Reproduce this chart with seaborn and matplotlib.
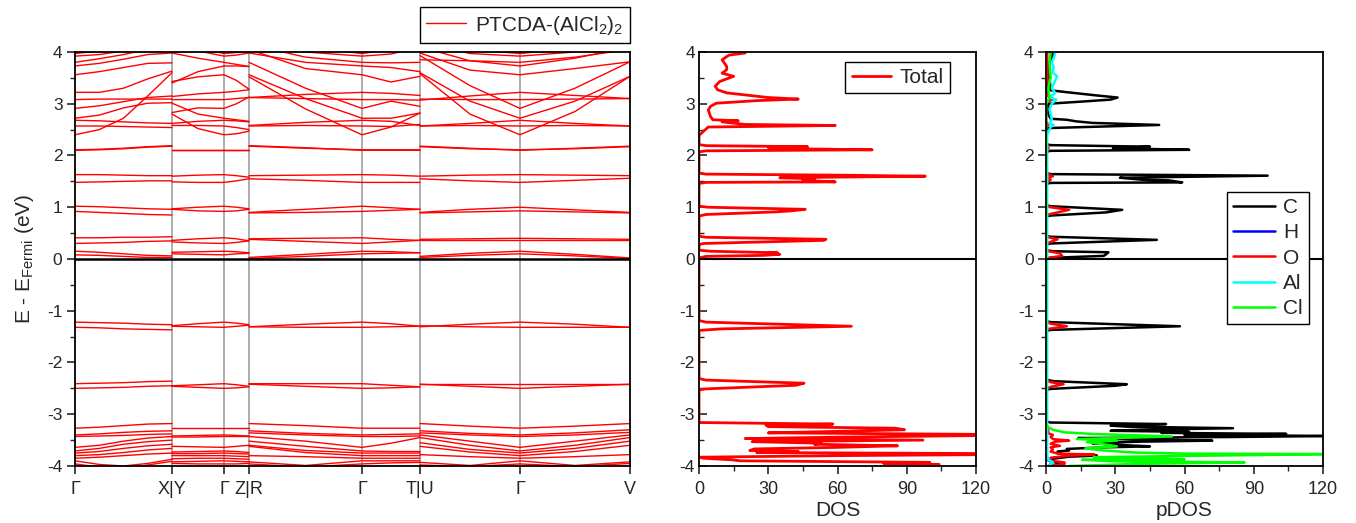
import numpy as np
import pandas as pd
import matplotlib
matplotlib.use('Agg')
import matplotlib.pyplot as plt
from matplotlib.lines import Line2D
from matplotlib.ticker import MultipleLocator
import seaborn as sns

# ---------------- k-path (positions along the path) ----------------
k_labels = ['Γ', 'X|Y', 'Γ', 'Z|R', 'Γ', 'T|U', 'Γ', 'V']
k_ticks = [0, 97, 149, 174, 287, 345, 445, 555]

# sample points of the 4 continuous pieces
k_gx = [0, 24.25, 48.5, 72.75, 97]          # Γ - X
k_ygz = [97, 123, 149, 161.5, 174]          # Y - Γ - Z
k_rgt = [174, 230.5, 287, 316, 345]         # R - Γ - T
k_ugv = [345, 395, 445, 500, 555]           # U - Γ - V

# band energies (eV) read at the sample points, same band order in every piece
bands_gx = [
    [-3.27, -3.25, -3.22, -3.19, -3.18], [-3.40, -3.38, -3.35, -3.33, -3.32],
    [-3.43, -3.42, -3.41, -3.39, -3.38], [-3.64, -3.60, -3.52, -3.46, -3.43],
    [-3.71, -3.66, -3.58, -3.53, -3.50], [-3.75, -3.72, -3.66, -3.61, -3.58],
    [-3.80, -3.78, -3.74, -3.69, -3.66], [-3.85, -3.83, -3.80, -3.77, -3.75],
    [-3.90, -3.97, -4.00, -3.95, -3.87], [-3.96, -4.02, -4.05, -3.98, -3.91],
    [-2.41, -2.40, -2.39, -2.37, -2.36], [-2.50, -2.49, -2.48, -2.46, -2.45],
    [-1.22, -1.23, -1.24, -1.26, -1.27], [-1.32, -1.33, -1.35, -1.36, -1.37],
    [0.15, 0.13, 0.10, 0.07, 0.06], [0.08, 0.07, 0.05, 0.03, 0.03],
    [0.41, 0.41, 0.42, 0.42, 0.43], [0.30, 0.31, 0.32, 0.34, 0.35],
    [1.02, 1.01, 0.99, 0.97, 0.96], [0.92, 0.90, 0.88, 0.86, 0.85],
    [1.63, 1.63, 1.62, 1.61, 1.61], [1.48, 1.49, 1.50, 1.51, 1.51],
    [2.11, 2.12, 2.14, 2.17, 2.19], [2.10, 2.11, 2.13, 2.16, 2.18],
    [2.40, 2.50, 2.72, 3.15, 3.60], [2.57, 2.57, 2.56, 2.55, 2.54],
    [2.68, 2.67, 2.65, 2.63, 2.62], [2.72, 2.78, 2.92, 3.01, 3.02],
    [2.91, 2.96, 3.04, 3.12, 3.15], [3.08, 3.09, 3.09, 3.09, 3.09],
    [3.22, 3.22, 3.30, 3.48, 3.63], [3.56, 3.62, 3.70, 3.78, 3.79],
    [3.73, 3.78, 3.86, 3.95, 3.98], [3.80, 3.87, 3.95, 4.05, 4.10],
    [3.92, 3.95, 4.02, 4.12, 4.20], [3.97, 4.02, 4.10, 4.20, 4.30],
]
bands_ygz = [
    [-3.27, -3.27, -3.27, -3.27, -3.27], [-3.42, -3.41, -3.40, -3.41, -3.42],
    [-3.44, -3.44, -3.43, -3.43, -3.43], [-3.62, -3.63, -3.64, -3.62, -3.60],
    [-3.73, -3.72, -3.71, -3.72, -3.74], [-3.76, -3.76, -3.75, -3.76, -3.77],
    [-3.80, -3.80, -3.80, -3.81, -3.82], [-3.86, -3.85, -3.85, -3.86, -3.87],
    [-3.92, -3.91, -3.90, -3.91, -3.92], [-3.95, -3.96, -3.96, -3.96, -3.95],
    [-2.45, -2.43, -2.41, -2.43, -2.46], [-2.46, -2.48, -2.50, -2.49, -2.47],
    [-1.29, -1.25, -1.22, -1.24, -1.27], [-1.30, -1.31, -1.32, -1.30, -1.28],
    [0.13, 0.14, 0.15, 0.14, 0.12], [0.10, 0.09, 0.08, 0.10, 0.11],
    [0.36, 0.39, 0.41, 0.39, 0.35], [0.33, 0.31, 0.30, 0.32, 0.35],
    [0.97, 1.00, 1.02, 1.00, 0.97], [0.96, 0.93, 0.92, 0.93, 0.96],
    [1.60, 1.62, 1.63, 1.61, 1.58], [1.49, 1.48, 1.48, 1.51, 1.55],
    [2.10, 2.10, 2.10, 2.10, 2.10], [2.11, 2.11, 2.11, 2.11, 2.11],
    [2.80, 2.52, 2.40, 2.42, 2.47], [2.58, 2.58, 2.57, 2.54, 2.50],
    [2.62, 2.66, 2.68, 2.67, 2.65], [3.01, 2.80, 2.72, 2.69, 2.66],
    [2.83, 2.92, 2.91, 3.00, 3.13], [3.08, 3.08, 3.08, 3.10, 3.12],
    [3.14, 3.19, 3.22, 3.24, 3.27], [3.43, 3.52, 3.56, 3.45, 3.28],
    [3.40, 3.62, 3.73, 3.73, 3.72], [3.98, 3.88, 3.80, 3.76, 3.72],
    [4.20, 4.02, 3.92, 3.94, 3.98], [4.30, 4.08, 3.97, 3.99, 4.00],
]
bands_rgt = [
    [-3.18, -3.22, -3.27, -3.27, -3.27], [-3.32, -3.37, -3.40, -3.39, -3.38],
    [-3.36, -3.40, -3.43, -3.43, -3.42], [-3.43, -3.52, -3.64, -3.56, -3.45],
    [-3.52, -3.62, -3.71, -3.72, -3.72], [-3.60, -3.70, -3.75, -3.75, -3.75],
    [-3.62, -3.74, -3.80, -3.80, -3.80], [-3.80, -3.82, -3.85, -3.85, -3.85],
    [-3.92, -3.99, -3.90, -3.90, -3.90], [-3.96, -4.02, -3.96, -3.94, -3.93],
    [-2.41, -2.41, -2.41, -2.44, -2.47], [-2.42, -2.46, -2.50, -2.49, -2.47],
    [-1.31, -1.26, -1.22, -1.25, -1.30], [-1.31, -1.32, -1.32, -1.31, -1.30],
    [0.03, 0.09, 0.15, 0.14, 0.12], [0.01, 0.05, 0.10, 0.11, 0.12],
    [0.39, 0.40, 0.41, 0.38, 0.36], [0.38, 0.34, 0.30, 0.33, 0.36],
    [0.90, 0.96, 1.02, 0.99, 0.96], [0.89, 0.90, 0.92, 0.94, 0.96],
    [1.61, 1.62, 1.63, 1.62, 1.60], [1.55, 1.52, 1.48, 1.48, 1.48],
    [2.19, 2.15, 2.10, 2.10, 2.10], [2.18, 2.14, 2.11, 2.11, 2.11],
    [3.52, 2.90, 2.40, 2.55, 2.82], [2.57, 2.58, 2.57, 2.56, 2.60],
    [2.58, 2.64, 2.68, 2.66, 2.58], [3.56, 3.10, 2.72, 2.72, 2.82],
    [3.80, 3.30, 2.91, 3.05, 2.95], [3.12, 3.10, 3.08, 3.08, 3.07],
    [3.12, 3.18, 3.22, 3.20, 3.16], [4.05, 3.68, 3.56, 3.42, 3.53],
    [3.98, 3.80, 3.73, 3.70, 3.62], [4.15, 3.90, 3.80, 3.79, 3.80],
    [4.20, 4.00, 3.92, 3.96, 4.10], [4.30, 4.10, 3.97, 4.05, 4.20],
]
bands_ugv = [
    [-3.18, -3.23, -3.27, -3.23, -3.18], [-3.32, -3.37, -3.40, -3.36, -3.30],
    [-3.36, -3.40, -3.43, -3.40, -3.35], [-3.40, -3.52, -3.64, -3.52, -3.40],
    [-3.45, -3.60, -3.71, -3.60, -3.45], [-3.55, -3.68, -3.75, -3.66, -3.52],
    [-3.62, -3.73, -3.80, -3.72, -3.60], [-3.78, -3.82, -3.85, -3.82, -3.78],
    [-3.93, -3.99, -3.90, -3.99, -3.92], [-3.98, -4.01, -3.96, -4.01, -3.95],
    [-2.41, -2.41, -2.41, -2.41, -2.41], [-2.42, -2.46, -2.50, -2.46, -2.42],
    [-1.31, -1.26, -1.22, -1.26, -1.32], [-1.29, -1.31, -1.32, -1.32, -1.32],
    [0.05, 0.11, 0.15, 0.09, 0.02], [0.03, 0.07, 0.10, 0.06, 0.01],
    [0.38, 0.39, 0.40, 0.39, 0.38], [0.37, 0.37, 0.37, 0.37, 0.37],
    [0.90, 0.96, 1.00, 0.95, 0.90], [0.89, 0.91, 0.93, 0.91, 0.89],
    [1.60, 1.62, 1.63, 1.62, 1.61], [1.55, 1.51, 1.48, 1.52, 1.56],
    [2.18, 2.14, 2.10, 2.14, 2.18], [2.17, 2.13, 2.11, 2.13, 2.17],
    [3.58, 2.80, 2.40, 2.85, 3.53], [2.57, 2.58, 2.57, 2.58, 2.57],
    [2.57, 2.62, 2.68, 2.62, 2.57], [3.60, 3.05, 2.72, 3.05, 3.53],
    [3.93, 3.35, 2.91, 3.30, 3.81], [3.09, 3.08, 3.08, 3.09, 3.10],
    [3.07, 3.15, 3.22, 3.16, 3.10], [3.98, 3.65, 3.56, 3.68, 3.81],
    [4.10, 3.83, 3.73, 3.88, 4.10], [3.85, 3.83, 3.80, 3.90, 4.05],
    [4.20, 3.97, 3.92, 4.00, 4.20], [4.30, 4.05, 3.97, 4.08, 4.30],
]

# ---------------- total DOS ----------------
dos_E = [-4.00, -3.97, -3.95, -3.93, -3.90, -3.88, -3.85, -3.83, -3.80, -3.78,
         -3.76, -3.74, -3.72, -3.70, -3.67, -3.64, -3.61, -3.58, -3.56, -3.53,
         -3.50, -3.47, -3.44, -3.41, -3.39, -3.36, -3.33, -3.30, -3.27, -3.24,
         -3.21, -3.19, -3.16, -3.14, -2.53, -2.51, -2.44, -2.40, -2.34, -2.31,
         -1.38, -1.35, -1.30, -1.22, -1.19, 0.02, 0.05, 0.07, 0.09, 0.11,
         0.12, 0.15, 0.17, 0.28, 0.30, 0.36, 0.38, 0.42, 0.44, 0.83,
         0.86, 0.91, 0.93, 0.96, 1.00, 1.02, 1.46, 1.48, 1.49, 1.52,
         1.55, 1.57, 1.60, 1.62, 1.64, 1.66, 2.07, 2.09, 2.11, 2.13,
         2.15, 2.17, 2.19, 2.21, 2.39, 2.47, 2.55, 2.58, 2.60, 2.65,
         2.67, 2.69, 2.75, 2.88, 2.95, 3.01, 3.06, 3.09, 3.12, 3.16,
         3.21, 3.27, 3.34, 3.43, 3.48, 3.53, 3.59, 3.66, 3.72, 3.85,
         3.94, 3.98]
dos_total = [90, 104, 80, 100, 18, 14, 2, 0, 60, 125,
             125, 25, 43, 22, 24, 60, 86, 50, 53, 23,
             97, 20, 65, 125, 125, 30, 61, 89, 85, 30,
             29, 58, 0, 0, 0, 3, 42, 45.5, 3, 0,
             0, 10, 66, 3, 0, 0, 3, 28, 35, 30,
             34, 5, 0, 0, 2, 54, 55, 3, 0, 0,
             3, 33, 40, 46, 4, 0, 0, 3, 59, 45,
             50, 35, 98, 60, 3, 0, 0, 3, 75, 40,
             30, 47, 3, 0, 0, 2, 4, 59, 20, 10,
             17, 6, 5, 4, 5, 7.5, 25, 43, 30, 22,
             12, 8, 7, 9, 12, 15, 10, 12, 12, 10,
             13, 20]

# ---------------- projected DOS ----------------
c_E = [-4.00, -3.96, -3.93, -3.90, -3.86, -3.82, -3.80, -3.78, -3.75, -3.72,
       -3.70, -3.67, -3.64, -3.62, -3.59, -3.56, -3.53, -3.51, -3.48, -3.46,
       -3.44, -3.42, -3.40, -3.38, -3.36, -3.34, -3.32, -3.30, -3.27, -3.24,
       -3.22, -3.19, -3.16, -3.14, -2.53, -2.51, -2.45, -2.42, -2.36, -2.33,
       -1.39, -1.37, -1.30, -1.22, -1.20, 0.00, 0.02, 0.06, 0.09, 0.13,
       0.15, 0.17, 0.28, 0.30, 0.37, 0.43, 0.45, 0.82, 0.84, 0.90,
       0.95, 1.02, 1.04, 1.45, 1.47, 1.48, 1.52, 1.53, 1.57, 1.61,
       1.64, 1.66, 2.07, 2.09, 2.11, 2.14, 2.17, 2.20, 2.22, 2.50,
       2.53, 2.59, 2.63, 2.66, 2.69, 2.71, 2.80, 3.00, 3.04, 3.08,
       3.12, 3.16, 3.23, 3.26, 3.50, 3.80, 3.95, 4.00]
c_val = [3, 6, 4, 2, 3, 10, 22, 8, 5, 5,
         10, 9, 25, 45, 30, 20, 40, 72, 30, 14,
         80, 125, 60, 104, 50, 62, 28, 40, 81, 35,
         28, 52, 2, 0, 0, 2, 30, 35, 3, 0,
         0, 2, 58, 2, 0, 0, 1, 25, 26, 27,
         3, 0, 0, 2, 48, 2, 0, 0, 2, 26,
         33, 2, 0, 0, 2, 59, 53, 42, 32, 96,
         2, 0, 0, 2, 62, 29, 45, 2, 0, 0,
         1, 49, 20, 13, 9, 2, 1, 1, 15, 28,
         31, 22, 7.6, 2, 1.5, 1.5, 3, 2]

h_E = [-4.00, -3.93, -3.88, -3.80, 4.00]
h_val = [1, 3, 0.5, 0, 0]

o_E = [-4.00, -3.96, -3.93, -3.90, -3.84, -3.80, -3.78, -3.76, -3.72, -3.68,
       -3.64, -3.61, -3.57, -3.53, -3.51, -3.48, -3.44, -3.40, -3.37, -3.30,
       -3.25, -2.50, -2.46, -2.42, -2.38, -2.34, -1.36, -1.33, -1.30, -1.25,
       -1.21, 0.00, 0.03, 0.06, 0.11, 0.15, 0.17, 0.30, 0.33, 0.38,
       0.42, 0.44, 0.85, 0.88, 0.95, 1.00, 1.02, 1.47, 1.50, 1.53,
       1.57, 1.60, 1.63, 1.65, 2.08, 2.11, 2.18, 2.20, 2.55, 2.59,
       2.65, 3.02, 3.09, 3.15, 3.40, 4.00]
o_val = [2, 8, 8, 2, 2, 10, 21, 5, 2, 3,
         2, 6, 2, 4, 10, 3, 2, 3, 1, 1,
         0, 0, 3, 7.6, 2, 0, 0, 4, 9, 2,
         0, 0, 2, 7, 6, 1, 0, 0, 2, 5,
         1, 0, 0, 3, 10, 2, 0, 0, 1, 2,
         1, 3, 1, 0, 0, 1, 1, 0, 0, 1,
         0, 0, 3, 1, 0.5, 0.5]

al_E = [-4.00, -3.93, -3.88, -3.80, 2.40, 2.55, 2.59, 2.62, 2.70, 2.80,
        2.90, 3.00, 3.08, 3.12, 3.21, 3.30, 3.40, 3.53, 3.60, 3.72,
        3.80, 3.90, 3.98]
al_val = [1, 3, 1, 0.5, 0.5, 2, 3.3, 1.5, 2.5, 2,
          1.5, 2.5, 4.5, 1.5, 4, 2.5, 3.5, 4.8, 3, 3.3,
          2.5, 3.5, 4]

cl_E = [-4.00, -3.96, -3.93, -3.91, -3.88, -3.87, -3.85, -3.83, -3.80, -3.77,
        -3.76, -3.74, -3.70, -3.66, -3.62, -3.58, -3.54, -3.51, -3.48, -3.43,
        -3.38, -3.35, -3.30, -3.25, -3.20, 3.00, 3.10, 3.30, 3.50, 3.80, 4.00]
cl_val = [10, 40, 86, 30, 15.6, 60, 45, 20.6, 70, 125,
          60, 38.7, 25, 17, 30.7, 25, 17.7, 30.7, 13.4, 54.5,
          20, 8, 3, 1, 0, 0, 1.5, 1, 2, 1.5, 2]

species = ['C', 'H', 'O', 'Al', 'Cl']
species_colors = ['#000000', '#0000FF', '#FF0000', '#00FFFF', '#00FF00']

# ---------------- style ----------------
sns.set_theme(style='ticks')
plt.rcParams['font.family'] = ['Liberation Sans', 'DejaVu Sans']
plt.rcParams['mathtext.fontset'] = 'custom'
plt.rcParams['mathtext.rm'] = 'Liberation Sans'
plt.rcParams['mathtext.it'] = 'Liberation Sans:italic'
plt.rcParams['axes.unicode_minus'] = False
plt.rcParams['axes.linewidth'] = 1.3
plt.rcParams['axes.edgecolor'] = 'black'

fig = plt.figure(figsize=(13.56, 5.23), dpi=100)
ax_b = fig.add_axes([0.0553, 0.1090, 0.4093, 0.7916])
ax_d = fig.add_axes([0.5155, 0.1090, 0.2043, 0.7916])
ax_p = fig.add_axes([0.7714, 0.1090, 0.2043, 0.7916])

# ---------------- band structure ----------------
rows = []
for p, (kk, bb) in enumerate([(k_gx, bands_gx), (k_ygz, bands_ygz),
                              (k_rgt, bands_rgt), (k_ugv, bands_ugv)]):
    for b, energies in enumerate(bb):
        for k, e in zip(kk, energies):
            rows.append({'k': k, 'E': e, 'seg': p * 100 + b})
band_df = pd.DataFrame(rows)

for kt in k_ticks[1:-1]:
    ax_b.axvline(kt, color='#A0A0A0', lw=1.2, zorder=1)
sns.lineplot(data=band_df, x='k', y='E', units='seg', estimator=None, sort=False,
             color='#FF0000', lw=1.0, ax=ax_b, legend=False, zorder=2)
ax_b.axhline(0, color='black', lw=1.8, zorder=3)
ax_b.set_xlim(k_ticks[0], k_ticks[-1])
ax_b.set_ylim(-4, 4)
ax_b.set_xticks(k_ticks)
ax_b.set_xticklabels(k_labels, fontsize=13)
ax_b.set_xlabel('')
ax_b.set_ylabel(r'E - E$_{\mathrm{Fermi}}$ (eV)', fontsize=15, labelpad=8)
ax_b.legend(handles=[Line2D([], [], color='#FF0000', lw=1.0)],
            labels=[r'PTCDA-(AlCl$_2$)$_2$'], loc='lower right',
            bbox_to_anchor=(1.0, 1.022), borderaxespad=0, fontsize=15,
            frameon=True, fancybox=False, edgecolor='black', framealpha=1,
            handlelength=1.9, handletextpad=0.45, borderpad=0.3)

# ---------------- total DOS ----------------
sns.lineplot(x=dos_total, y=dos_E, orient='y', sort=False, estimator=None,
             color='#FF0000', lw=2.0, ax=ax_d, label='Total')
ax_d.axhline(0, color='black', lw=1.5)
ax_d.set_xlim(0, 120)
ax_d.set_ylim(-4, 4)
ax_d.set_xlabel('DOS', fontsize=15, labelpad=2)
ax_d.set_ylabel('')
ax_d.legend(loc='upper right', bbox_to_anchor=(0.906, 0.976), borderaxespad=0,
            fontsize=15, frameon=True, fancybox=False, edgecolor='black',
            framealpha=1, handlelength=1.9, handletextpad=0.4, borderpad=0.3)

# ---------------- projected DOS ----------------
pdos_E = [c_E, h_E, o_E, al_E, cl_E]
pdos_val = [c_val, h_val, o_val, al_val, cl_val]
for name, col, ee, vv in zip(species, species_colors, pdos_E, pdos_val):
    sns.lineplot(x=vv, y=ee, orient='y', sort=False, estimator=None,
                 color=col, lw=1.8, ax=ax_p, label=name)
ax_p.axhline(0, color='black', lw=1.5)
ax_p.set_xlim(0, 120)
ax_p.set_ylim(-4, 4)
ax_p.set_xlabel('pDOS', fontsize=15, labelpad=2)
ax_p.set_ylabel('')
ax_p.legend(loc='upper right', bbox_to_anchor=(0.95, 0.662), borderaxespad=0,
            fontsize=15, frameon=True, fancybox=False, edgecolor='black',
            framealpha=1, handlelength=2.0, handletextpad=0.4, borderpad=0.3,
            labelspacing=0.3)

# ---------------- ticks ----------------
for ax in (ax_b, ax_d, ax_p):
    ax.yaxis.set_major_locator(MultipleLocator(1))
    ax.yaxis.set_minor_locator(MultipleLocator(0.5))
    ax.tick_params(axis='y', which='major', direction='out', length=6, width=1.2,
                   labelsize=12.5, pad=3)
    ax.tick_params(axis='y', which='minor', direction='out', length=3.5, width=1.0)
    ax.tick_params(axis='x', which='major', direction='out', length=6, width=1.2,
                   labelsize=13, pad=5)
    ax.tick_params(axis='x', which='minor', direction='out', length=3.5, width=1.0)
    for s in ax.spines.values():
        s.set_linewidth(1.3)
        s.set_color('black')
for ax in (ax_d, ax_p):
    ax.xaxis.set_major_locator(MultipleLocator(30))
    ax.xaxis.set_minor_locator(MultipleLocator(15))
ax_d.tick_params(axis='y', which='both', direction='in')

fig.savefig('out.png', dpi=100)
